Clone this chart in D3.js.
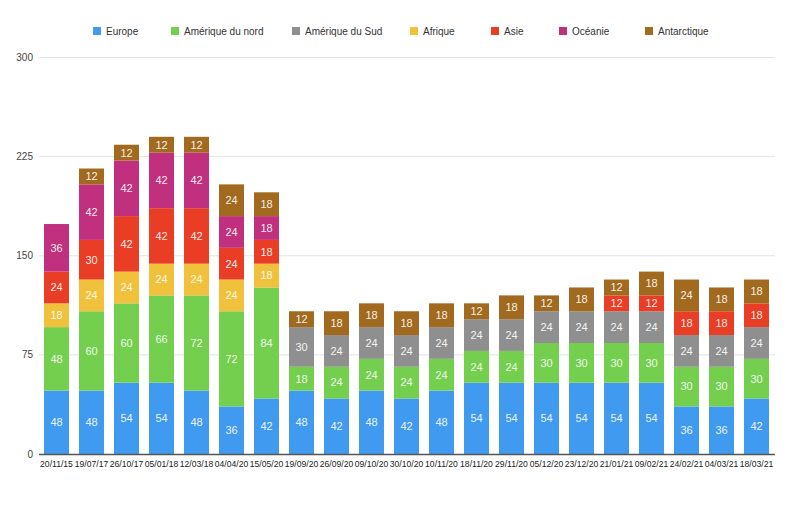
<!DOCTYPE html>
<html>
<head>
<meta charset="utf-8">
<script src="https://cdn.jsdelivr.net/npm/d3@7"></script>
<style>
  html, body { margin: 0; padding: 0; background: #fff; }
  svg { display: block; font-family: "Liberation Sans", Arial, Helvetica, sans-serif; }
</style>
</head>
<body>
<svg id="chart" width="800" height="513"></svg>
<script>
const dates = ["20/11/15","19/07/17","26/10/17","05/01/18","12/03/18","04/04/20","15/05/20","19/09/20","26/09/20","09/10/20","30/10/20","10/11/20","18/11/20","29/11/20","05/12/20","23/12/20","21/01/21","09/02/21","24/02/21","04/03/21","18/03/21"];
const seriesNames = ["Europe","Amérique du nord","Amérique du Sud","Afrique","Asie","Océanie","Antarctique"];
const europe      = [48,48,54,54,48,36,42,48,42,48,42,48,54,54,54,54,54,54,36,36,42];
const ameriqueNord= [48,60,60,66,72,72,84,18,24,24,24,24,24,24,30,30,30,30,30,30,30];
const ameriqueSud = [0,0,0,0,0,0,0,30,24,24,24,24,24,24,24,24,24,24,24,24,24];
const afrique     = [18,24,24,24,24,24,18,0,0,0,0,0,0,0,0,0,0,0,0,0,0];
const asie        = [24,30,42,42,42,24,18,0,0,0,0,0,0,0,0,0,12,12,18,18,18];
const oceanie     = [36,42,42,42,42,24,18,0,0,0,0,0,0,0,0,0,0,0,0,0,0];
const antarctique = [0,12,12,12,12,24,18,12,18,18,18,18,12,18,12,18,12,18,24,18,18];
const yTicks = [0,75,150,225,300];
const colors = ["#3f9af0","#74cf4f","#8f8f8f","#f2c13c","#ea3d25","#c0307e","#a26a1f"];

const seriesValues = [europe, ameriqueNord, ameriqueSud, afrique, asie, oceanie, antarctique];
const rows = dates.map((d, i) => {
  const r = { date: d };
  seriesNames.forEach((s, k) => r[s] = seriesValues[k][i]);
  return r;
});

const svg = d3.select("#chart");
const x = d3.scaleBand().domain(dates).range([39, 774]).paddingInner(10/35).paddingOuter(5/35);
const y = d3.scaleLinear().domain([0, 300]).range([454, 57.5]);

// gridlines
svg.append("g").selectAll("line").data(yTicks.filter(t => t > 0)).join("line")
  .attr("x1", 39).attr("x2", 775)
  .attr("y1", d => y(d)).attr("y2", d => y(d))
  .attr("stroke", "#e3e3e3").attr("stroke-width", 1);

// y labels
svg.append("g").selectAll("text").data(yTicks).join("text")
  .attr("x", 33).attr("y", d => y(d)).attr("dy", "0.35em")
  .attr("text-anchor", "end").attr("font-size", 10).attr("fill", "#444")
  .text(d => d);

const stack = d3.stack().keys(seriesNames)(rows);

const layers = svg.append("g").selectAll("g").data(stack).join("g")
  .attr("fill", (d, i) => colors[i]);

layers.selectAll("rect").data(d => d.filter(p => p[1] - p[0] > 0)).join("rect")
  .attr("x", d => x(d.data.date))
  .attr("width", x.bandwidth())
  .attr("y", d => y(d[1]))
  .attr("height", d => y(d[0]) - y(d[1]));

svg.append("g").selectAll("g").data(stack).join("g")
  .selectAll("text").data(d => d.filter(p => p[1] - p[0] > 0)).join("text")
  .attr("x", d => x(d.data.date) + x.bandwidth() / 2)
  .attr("y", d => (y(d[0]) + y(d[1])) / 2)
  .attr("dy", "0.35em")
  .attr("text-anchor", "middle")
  .attr("font-size", 11)
  .attr("fill", "#fff")
  .attr("fill-opacity", 0.92)
  .text(d => d[1] - d[0]);

// x axis line
svg.append("line").attr("x1", 39).attr("x2", 775).attr("y1", 454.5).attr("y2", 454.5)
  .attr("stroke", "#555").attr("stroke-width", 1.5);

// x labels
svg.append("g").selectAll("text").data(dates).join("text")
  .attr("x", d => x(d) + x.bandwidth() / 2)
  .attr("y", 467)
  .attr("text-anchor", "middle").attr("font-size", 8.6).attr("fill", "#222")
  .text(d => d);

// legend
const legendX = [93, 171, 292, 410, 491, 559, 645];
const legend = svg.append("g");
const items = legend.selectAll("g").data(seriesNames).join("g")
  .attr("transform", (d, i) => `translate(${legendX[i]},0)`);
items.append("rect").attr("width", 8).attr("height", 8).attr("y", 27)
  .attr("fill", (d, i) => colors[i]);
items.append("text").attr("x", 13).attr("y", 31).attr("dy", "0.35em")
  .attr("font-size", 10).attr("fill", "#333").text(d => d);
</script>
</body>
</html>
